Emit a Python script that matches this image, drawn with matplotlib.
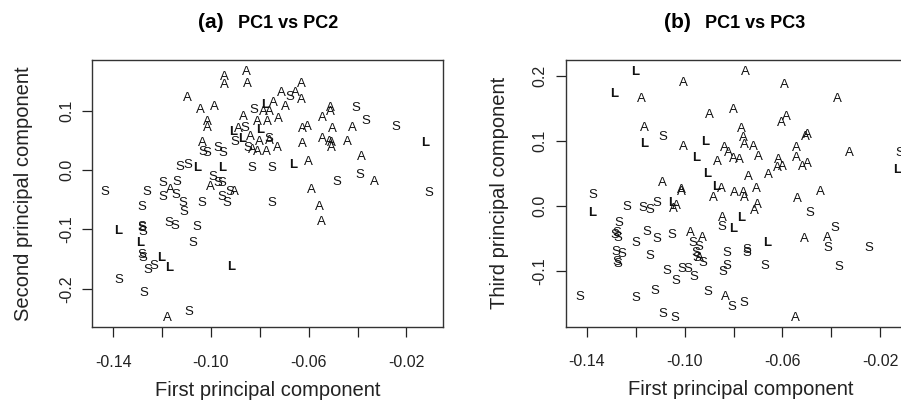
import numpy as np
import matplotlib
matplotlib.use("Agg")
import matplotlib.pyplot as plt

plt.rcParams["font.family"] = ["Liberation Sans", "DejaVu Sans"]

# panel (a): PC1 vs PC2
pc1_a = [
    -0.0943, -0.0943, -0.0853, -0.0849, -0.1098, -0.1045, -0.0984, -0.1016, -0.1016, -0.0824,
    -0.0779, -0.0787, -0.0759, -0.0746, -0.0697, -0.0869, -0.0808, -0.0767, -0.0722, -0.0910,
    -0.0886, -0.0861, -0.0800, -0.0902, -0.0873, -0.0840, -0.0800, -0.0763, -0.0759, -0.0726,
    -0.0849, -0.0832, -0.0808, -0.0771, -0.1033, -0.1033, -0.1016, -0.0971, -0.0951, -0.1127,
    -0.1094, -0.1057, -0.0955, -0.0832, -0.0750, -0.0664, -0.0603, -0.0710, -0.0677, -0.0656,
    -0.0628, -0.0628, -0.0509, -0.0513, -0.0542, -0.0407, -0.0366, -0.0419, -0.0243, -0.0624,
    -0.0607, -0.0501, -0.0624, -0.0542, -0.0517, -0.0505, -0.0505, -0.0443, -0.0124, -0.0382,
    -0.0390, -0.0329, -0.0484, -0.0587, -0.0108, -0.0558, -0.0546, -0.0750, -0.1434, -0.1262,
    -0.1197, -0.1139, -0.1168, -0.1197, -0.1143, -0.1115, -0.1111, -0.0992, -0.0971, -0.1004,
    -0.0955, -0.0922, -0.0902, -0.0955, -0.0935, -0.1037, -0.1283, -0.1172, -0.1147, -0.1057,
    -0.1381, -0.1283, -0.1278, -0.1283, -0.1291, -0.1074, -0.1283, -0.1278, -0.1205, -0.1172,
    -0.1258, -0.1233, -0.0918, -0.1377, -0.1274, -0.1090, -0.1180]
pc2_a = [
    0.1563, 0.1429, 0.1647, 0.1445, 0.1210, 0.1008, 0.1059, 0.0807, 0.0706, 0.1008,
    0.1092, 0.0975, 0.0975, 0.1126, 0.1059, 0.0891, 0.0807, 0.0807, 0.0857, 0.0639,
    0.0689, 0.0706, 0.0672, 0.0471, 0.0521, 0.0555, 0.0471, 0.0521, 0.0487, 0.0370,
    0.0370, 0.0336, 0.0303, 0.0303, 0.0454, 0.0303, 0.0286, 0.0370, 0.0286, 0.0050,
    0.0084, 0.0034, 0.0034, 0.0034, 0.0034, 0.0084, 0.0134, 0.1294, 0.1227, 0.1294,
    0.1445, 0.1176, 0.1042, 0.0975, 0.0874, 0.1042, 0.0824, 0.0706, 0.0723, 0.0689,
    0.0723, 0.0689, 0.0437, 0.0521, 0.0471, 0.0454, 0.0370, 0.0471, 0.0454, 0.0219,
    -0.0084, -0.0202, -0.0202, -0.0336, -0.0387, -0.0622, -0.0874, -0.0555, -0.0370, -0.0370,
    -0.0219, -0.0202, -0.0336, -0.0454, -0.0420, -0.0555, -0.0706, -0.0118, -0.0219, -0.0286,
    -0.0219, -0.0370, -0.0370, -0.0454, -0.0555, -0.0555, -0.0622, -0.0891, -0.0941, -0.0958,
    -0.1025, -0.0958, -0.1042, -0.0975, -0.1227, -0.1227, -0.1429, -0.1479, -0.1479, -0.1647,
    -0.1681, -0.1613, -0.1630, -0.1849, -0.2067, -0.2387, -0.2487]
grp_a = list(
    "AAAAAAAAAS" "LAAAAAAAAL" "ASLSLAASAA" "SAAAASSSSS" "SLLSSLAASA" "AAAAASSASA"
    "AAAAAAAALA" "SASASAASSS" "SSASSSSSSA" "SSASSSSSSS" "LSSSLSSSLL" "SSLSSSA")

# panel (b): PC1 vs PC3
pc1_b = [
    -0.1202, -0.1006, -0.1288, -0.1178, -0.0899, -0.0801, -0.1165, -0.1165, -0.1088, -0.1006,
    -0.0916, -0.0953, -0.0867, -0.0908, -0.0871, -0.0850, -0.0883, -0.1092, -0.1014, -0.1014,
    -0.1374, -0.1378, -0.1235, -0.1170, -0.1141, -0.1112, -0.1051, -0.1034, -0.1047, -0.1268,
    -0.1153, -0.1112, -0.1051, -0.0977, -0.0928, -0.1284, -0.1276, -0.1272, -0.1198, -0.1280,
    -0.1256, -0.1276, -0.1272, -0.0965, -0.0940, -0.0953, -0.0949, -0.0940, -0.0924, -0.1141,
    -0.1071, -0.1034, -0.1010, -0.0985, -0.0961, -0.0904, -0.1427, -0.1198, -0.1120, -0.1088,
    -0.1039, -0.0752, -0.0592, -0.0376, -0.0584, -0.0605, -0.0768, -0.0760, -0.0756, -0.0719,
    -0.0699, -0.0838, -0.0822, -0.0801, -0.0777, -0.0506, -0.0498, -0.0543, -0.0326, -0.0617,
    -0.0621, -0.0601, -0.0543, -0.0519, -0.0498, -0.0658, -0.0740, -0.0130, -0.0118, -0.0797,
    -0.0760, -0.0756, -0.0707, -0.0703, -0.0715, -0.0539, -0.0445, -0.0486, -0.0846, -0.0846,
    -0.0768, -0.0801, -0.0384, -0.0416, -0.0412, -0.0511, -0.0662, -0.0826, -0.0744, -0.0744,
    -0.0245, -0.0842, -0.0826, -0.0670, -0.0367, -0.0834, -0.0805, -0.0756, -0.0547]
pc3_b = [
    0.2062, 0.1892, 0.1723, 0.1646, 0.1400, 0.1477, 0.1200, 0.0954, 0.1062, 0.0908,
    0.0985, 0.0738, 0.0677, 0.0492, 0.0292, 0.0262, 0.0123, 0.0354, 0.0246, 0.0215,
    0.0169, -0.0108, -0.0015, -0.0031, -0.0062, 0.0046, 0.0046, 0.0000, -0.0046, -0.0262,
    -0.0400, -0.0508, -0.0446, -0.0415, -0.0492, -0.0446, -0.0415, -0.0492, -0.0569, -0.0708,
    -0.0738, -0.0862, -0.0892, -0.0569, -0.0631, -0.0723, -0.0800, -0.0800, -0.0877, -0.0769,
    -0.1000, -0.1154, -0.0969, -0.0969, -0.1092, -0.1323, -0.1400, -0.1415, -0.1308, -0.1662,
    -0.1723, 0.2062, 0.1862, 0.1646, 0.1369, 0.1277, 0.1185, 0.1046, 0.0938, 0.0908,
    0.0754, 0.0892, 0.0815, 0.0723, 0.0708, 0.1062, 0.1092, 0.0892, 0.0815, 0.0708,
    0.0585, 0.0600, 0.0738, 0.0600, 0.0646, 0.0477, 0.0446, 0.0554, 0.0815, 0.0200,
    0.0200, 0.0123, 0.0262, 0.0015, -0.0077, 0.0108, 0.0215, -0.0108, -0.0185, -0.0323,
    -0.0185, -0.0354, -0.0338, -0.0492, -0.0646, -0.0508, -0.0569, -0.0723, -0.0677, -0.0723,
    -0.0646, -0.1015, -0.0923, -0.0923, -0.0938, -0.1400, -0.1554, -0.1492, -0.1723]
grp_b = list(
    "LALAAAALSA" "LLALLAAAAA" "SLSSSSLAAS" "SSSAASSSSS" "SSSSSSSASS" "SSSSSSSSSS"
    "SAAAAAAAAA" "AAAAAAAAAA" "AAAAAAALSA" "AAAAAAASAS" "LLSASALSSS" "SSSSSASSA")

x_ticks = [-0.14, -0.12, -0.10, -0.08, -0.06, -0.04, -0.02]
x_ticklabels = ["-0.14", "", "-0.10", "", "-0.06", "", "-0.02"]
y_ticks_a = [-0.2, -0.1, 0.0, 0.1]
y_ticks_b = [-0.1, 0.0, 0.1, 0.2]


def panel(ax, x, y, grp, yticks, ylim, ylabel):
    # each sample is drawn as its group letter
    for xi, yi, g in zip(x, y, grp):
        ax.text(xi, yi, g, ha="center", va="center", fontsize=9.5,
                color="#111111", fontweight="bold" if g == "L" else "normal")
    ax.set_xlim(-0.1487, -0.0050)
    ax.set_ylim(*ylim)
    ax.set_xticks(x_ticks)
    ax.set_xticklabels(x_ticklabels)
    ax.set_yticks(yticks)
    ax.set_yticklabels([f"{t:.1f}" for t in yticks], rotation=90, va="center")
    ax.tick_params(length=7, width=0.9, labelsize=11.5, colors="#222222")
    ax.tick_params(axis="x", pad=13)
    ax.tick_params(axis="y", pad=6)
    for s in ax.spines.values():
        s.set_linewidth(1.0)
        s.set_color("#333333")
    ax.set_xlabel("First principal component", fontsize=14.5, color="#222222", va="center")
    ax.xaxis.set_label_coords(0.5, -0.236)
    ax.set_ylabel(ylabel, fontsize=14.5, color="#222222", va="center")


fig = plt.figure(figsize=(9.01, 4.12), dpi=100)
ax1 = fig.add_axes([92 / 901, 85 / 412, 351 / 901, 267 / 412])
ax2 = fig.add_axes([565.7 / 901, 85.3 / 412, 351 / 901, 266.7 / 412])

panel(ax1, pc1_a, pc2_a, grp_a, y_ticks_a, (-0.2639, 0.1849), "Second principal component")
ax1.yaxis.set_label_coords(-0.195, 0.5)
panel(ax2, pc1_b, pc3_b, grp_b, y_ticks_b, (-0.1857, 0.2246), "Third principal component")
ax2.yaxis.set_label_coords(-0.19, 0.5)

ty = 1 - 23 / 412
fig.text(224 / 901, ty, "(a)", ha="right", va="center", fontsize=15, fontweight="bold")
fig.text(238 / 901, ty, "PC1 vs PC2", ha="left", va="center", fontsize=13, fontweight="bold")
fig.text(691 / 901, ty, "(b)", ha="right", va="center", fontsize=15, fontweight="bold")
fig.text(705 / 901, ty, "PC1 vs PC3", ha="left", va="center", fontsize=13, fontweight="bold")

fig.savefig("out.png", dpi=100)
